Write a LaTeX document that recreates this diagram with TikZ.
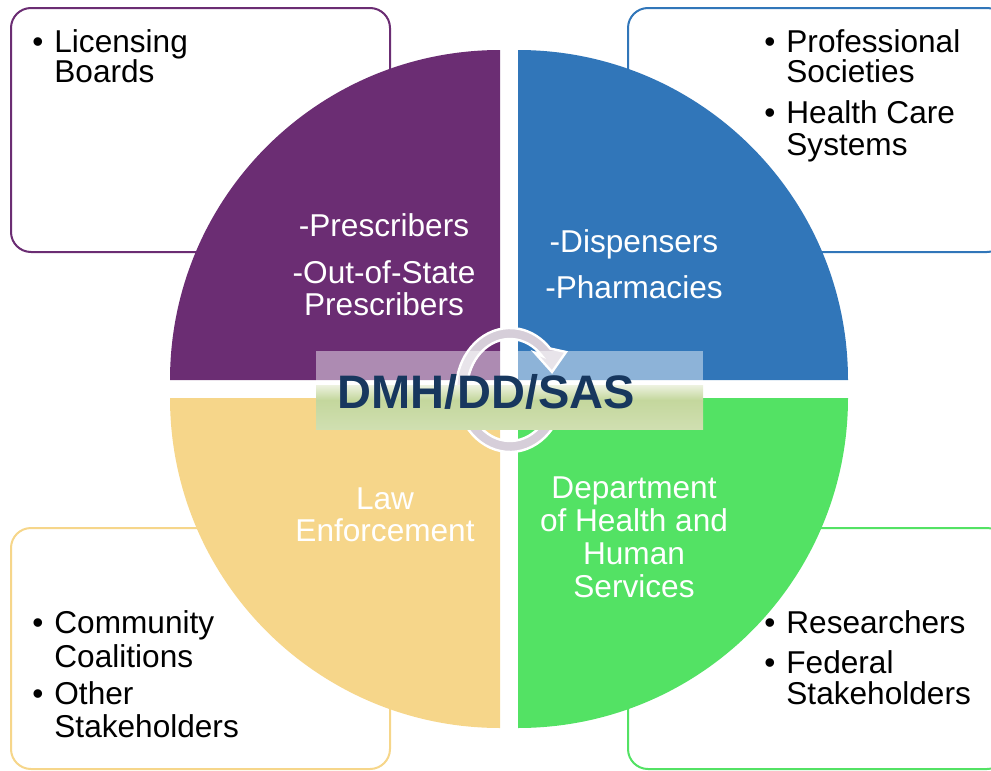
\documentclass[tikz,border=0pt]{standalone}
\usepackage{fontspec}
\setmainfont{Liberation Sans}
\definecolor{qpurple}{HTML}{6B2D73}
\definecolor{qblue}{HTML}{3176B9}
\definecolor{qgreen}{HTML}{53E264}
\definecolor{qyellow}{HTML}{F6D68A}
\definecolor{ringgray}{HTML}{D6CED9}
\definecolor{bandlight}{HTML}{EDF2E0}
\definecolor{bandgreen}{HTML}{C4D79D}
\definecolor{titleblue}{HTML}{17375E}
\tikzset{
  sidebox/.style={fill=white, line width=1pt, rounded corners=10pt},
  boxtext/.style={font=\fontsize{15.8}{17}\selectfont, anchor=base west, inner sep=0pt},
  quadtext/.style={font=\fontsize{15.8}{17}\selectfont, text=white, anchor=base, inner sep=0pt}
}
\begin{document}
\begin{tikzpicture}[x=0.5pt,y=-0.5pt]
    \useasboundingbox (0,0) rectangle (991,771);
    \clip (0,0) rectangle (991,771);
    \filldraw[sidebox, draw=qpurple] (11,8) rectangle (390,252);
    \filldraw[sidebox, draw=qblue] (628,8) rectangle (1007,252);
    \filldraw[sidebox, draw=qyellow] (11,528) rectangle (390,769);
    \filldraw[sidebox, draw=qgreen] (628,528) rectangle (1007,769);
    \foreach \cx/\cy/\a/\col in {500/380/180/qpurple, 518/380/270/qblue, 518/398/0/qgreen, 500/398/90/qyellow}
        \fill[\col] (\cx,\cy) -- ++(\a:330) arc[start angle=\a, end angle=\a+90, radius=330] -- cycle;
    \node[boxtext] (tlb1) at (32,52) {\textbullet};
    \foreach \t/\y [count=\i] in {Licensing/52, Boards/83}
        \node[boxtext] (tl\i) at (54,\y) {\t};
    \node[boxtext] (trb1) at (764,52) {\textbullet};
    \node[boxtext] (trb2) at (764,123) {\textbullet};
    \foreach \t/\y [count=\i] in {Professional/52, Societies/83, Health Care/123, Systems/155}
        \node[boxtext] (tr\i) at (786,\y) {\t};
    \node[boxtext] (blb1) at (32,633) {\textbullet};
    \node[boxtext] (blb2) at (32,704) {\textbullet};
    \foreach \t/\y [count=\i] in {Community/633, Coalitions/667, Other/704, Stakeholders/737}
        \node[boxtext] (bl\i) at (54,\y) {\t};
    \node[boxtext] (brb1) at (764,633) {\textbullet};
    \node[boxtext] (brb2) at (764,673) {\textbullet};
    \foreach \t/\y [count=\i] in {Researchers/633, Federal/673, Stakeholders/704}
        \node[boxtext] (br\i) at (786,\y) {\t};
    \node[quadtext] (pr1) at (384,236) {-Prescribers};
    \node[quadtext] (pr2) at (384,283) {-Out-of-State};
    \node[quadtext] (pr3) at (384,315) {Prescribers};
    \node[quadtext] (di1) at (634,252) {-Dispensers};
    \node[quadtext] (di2) at (634,298) {-Pharmacies};
    \node[quadtext] (law1) at (385,509) {Law};
    \node[quadtext] (law2) at (385,541) {Enforcement};
    \foreach \t/\y [count=\i] in {Department/498, of Health and/531, Human/564, Services/597}
        \node[quadtext] (dh\i) at (634,\y) {\t};
    \begin{scope}[shift={(510,390)}]
        \filldraw[fill=ringgray, draw=white, line width=1.2pt] (10:54 and 62) arc[start angle=10, end angle=318, x radius=54, y radius=62] -- (56,-38) -- (42,-18) -- (25,-37) -- (318:43 and 51) arc[start angle=318, end angle=10, x radius=43, y radius=51] -- cycle;
    \end{scope}
    \fill[white, opacity=0.45] (316,351) rectangle (703,385);
    \shade[top color=bandlight, bottom color=bandgreen] (316,385) rectangle (703,400);
    \shade[top color=bandgreen, bottom color=bandgreen!80!white] (316,400) rectangle (703,429);
    \node[font=\bfseries\fontsize{23.5}{26}\selectfont, text=titleblue, anchor=base, inner sep=0pt] (title) at (486,408) {DMH/DD/SAS};
\end{tikzpicture}
\end{document}
